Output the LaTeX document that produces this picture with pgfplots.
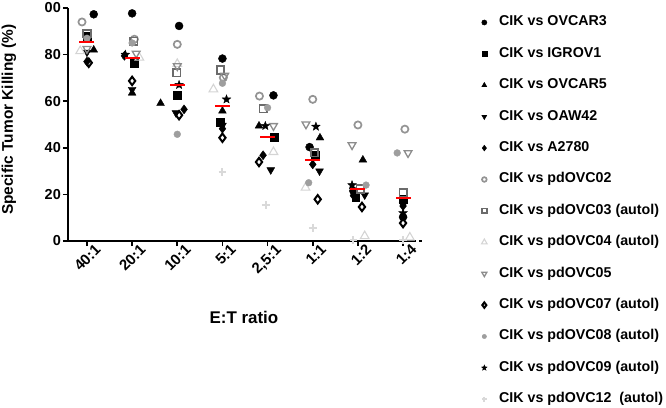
\documentclass[border=0pt]{standalone}
\usepackage{fontspec}
\setmainfont{Liberation Sans}
\usepackage{pgfplots}
\pgfplotsset{compat=1.18}
\definecolor{gA}{gray}{0.58}
\definecolor{gB}{gray}{0.42}
\definecolor{gC}{gray}{0.83}
\definecolor{gD}{gray}{0.55}
\definecolor{gE}{gray}{0.62}
\definecolor{gF}{gray}{0.85}
\pgfdeclareplotmark{fstar}{%
  \pgfpathmoveto{\pgfpointpolar{90}{\pgfplotmarksize}}%
  \pgfpathlineto{\pgfpointpolar{126}{0.42\pgfplotmarksize}}%
  \pgfpathlineto{\pgfpointpolar{162}{\pgfplotmarksize}}%
  \pgfpathlineto{\pgfpointpolar{198}{0.42\pgfplotmarksize}}%
  \pgfpathlineto{\pgfpointpolar{234}{\pgfplotmarksize}}%
  \pgfpathlineto{\pgfpointpolar{270}{0.42\pgfplotmarksize}}%
  \pgfpathlineto{\pgfpointpolar{306}{\pgfplotmarksize}}%
  \pgfpathlineto{\pgfpointpolar{342}{0.42\pgfplotmarksize}}%
  \pgfpathlineto{\pgfpointpolar{18}{\pgfplotmarksize}}%
  \pgfpathlineto{\pgfpointpolar{54}{0.42\pgfplotmarksize}}%
  \pgfpathclose\pgfusepathqfillstroke}
\begin{document}
\begin{tikzpicture}
\begin{axis}[
  at={(0,0)}, anchor=south west,
  scale only axis, width=345bp, height=233bp,
  xmin=-0.42, xmax=7.22, ymin=0, ymax=100,
  axis x line=bottom, axis y line=left,
  axis line style={-, line width=1.6bp, black},
  xtick={0,...,7},
  xticklabels={40:1,20:1,10:1,5:1,{2,5:1},1:1,1:2,1:4},
  ytick={0,20,40,60,80,100},
  yticklabels={0,20,40,60,80,00},
  tick align=outside, major tick length=5bp,
  tick style={line width=1.6bp, black},
  /pgf/number format/assume math mode=true,
  xticklabel style={rotate=45, anchor=north east, inner sep=1bp, xshift=8bp, yshift=-2bp, font=\fontsize{15}{17}\selectfont\bfseries},
  yticklabel style={inner sep=2bp, font=\fontsize{14.5}{16}\selectfont\bfseries},
  xlabel={E:T ratio},
  xlabel style={at={(axis description cs:0.51,-0.33)}, anchor=center, font=\fontsize{17}{19}\selectfont\bfseries},
  ylabel={Specific Tumor Killing (\%)},
  ylabel style={at={(axis description cs:-0.171,0.52)}, anchor=center, rotate=0, font=\fontsize{15.5}{17}\selectfont\bfseries},
  clip=false,
  legend cell align=left,
  legend image code/.code={\draw[#1, every mark/.append style={scale=0.65}] plot coordinates {(0bp,0bp)};},
  legend style={at={(axis description cs:1.1986,0.9657)}, anchor=north west, draw=none, fill=none,
     inner sep=0pt, outer sep=0pt, row sep=18.4bp, column sep=12bp,
     font=\fontsize{14.3}{16}\selectfont\bfseries,
     nodes={inner sep=0pt, text height=10bp, text depth=3bp}},
]
% CIK vs OVCAR3
\addplot[only marks, mark=*, mark size=4bp, black] coordinates {
 (0.15,97.3) (1.0,97.7) (2.04,92.3) (3.0,78.3) (4.13,62.5) (4.93,40.3) (5.9,21.5) (7.0,10.3)};
\addlegendentry{CIK vs OVCAR3}
% CIK vs IGROV1
\addplot[only marks, mark=square*, mark size=3.8bp, black] coordinates {
 (0,88) (1.05,76.3) (2.0,62.7) (2.95,51) (4.15,44.5) (5.05,37) (5.95,18.9) (7.0,18)};
\addlegendentry{CIK vs IGROV1}
% CIK vs OVCAR5
\addplot[only marks, mark=triangle*, mark size=4.5bp, black] coordinates {
 (0.15,82) (1.0,63.5) (1.63,59.1) (3.0,55.8) (3.81,49.4) (5.16,44.3) (6.11,34.8) (7.0,11)};
\addlegendentry{CIK vs OVCAR5}
% CIK vs OAW42
\addplot[only marks, mark=triangle*, mark size=4.5bp, mark options={rotate=180}, black] coordinates {
 (0,81) (1.0,65) (1.97,55) (3.0,49.6) (4.07,30.5) (5.15,30) (6.15,19.7) (7.0,15.5)};
\addlegendentry{CIK vs OAW42}
% CIK vs A2780
\addplot[only marks, mark=diamond*, mark size=4.5bp, black] coordinates {
 (0,77) (0.83,79.5) (2.15,56.5) (3.0,48.2) (3.9,36.8) (5.0,32.9) (5.9,19.5) (7.0,15)};
\addlegendentry{CIK vs A2780}
% CIK vs pdOVC02
\addplot[only marks, mark=o, mark size=3.6bp, line width=1.7bp, gA] coordinates {
 (-0.11,94) (1.05,86.6) (2.0,84.4) (3.02,70.1) (3.82,62.2) (5.0,60.8) (6.0,49.8) (7.04,48)};
\addlegendentry{CIK vs pdOVC02}
% CIK vs pdOVC03 (autol)
\addplot[only marks, mark=square, mark size=3.7bp, line width=1.7bp, gB] coordinates {
 (0,89) (1.04,85.8) (1.99,72.2) (2.96,73.4) (3.9,56.8) (5.04,37.9) (6.05,22.3) (7.0,20.6)};
\addlegendentry{CIK vs pdOVC03 (autol)}
% CIK vs pdOVC04 (autol)
\addplot[only marks, mark=triangle, mark size=5bp, line width=1.1bp, gC] coordinates {
 (-0.15,81.5) (1.16,78.7) (2.0,76) (2.8,65.1) (4.13,38.2) (4.84,22.9) (6.15,2.1) (7.15,1.5)};
\addlegendentry{CIK vs pdOVC04 (autol)}
% CIK vs pdOVC05
\addplot[only marks, mark=triangle, mark size=4.5bp, mark options={rotate=180}, line width=1.3bp, gD] coordinates {
 (0,82.5) (1.09,80.5) (2.0,75.1) (3.05,71) (4.13,49.4) (4.85,50.1) (5.87,41.2) (7.11,37.8)};
\addlegendentry{CIK vs pdOVC05}
% CIK vs pdOVC07 (autol)
\addplot[only marks, mark=diamond, mark size=4.2bp, line width=2bp, black] coordinates {
 (0.04,76.5) (1.0,68.7) (2.04,54) (3.0,44.3) (3.81,33.9) (5.11,17.9) (6.09,14.6) (7.0,7.7)};
\addlegendentry{CIK vs pdOVC07 (autol)}
% CIK vs pdOVC08 (autol)
\addplot[only marks, mark=*, mark size=3.4bp, gE] coordinates {
 (0,87) (1.0,85) (2.0,45.8) (3.0,67.7) (4.0,57.2) (4.91,25) (6.18,24) (6.87,37.8)};
\addlegendentry{CIK vs pdOVC08 (autol)}
% CIK vs pdOVC09 (autol)
\addplot[only marks, mark=fstar, mark size=4.5bp, black] coordinates {
 (0.85,80) (2.04,67) (3.09,60.8) (3.95,49.4) (5.07,49.1) (5.87,24) (7.0,12)};
\addlegendentry{CIK vs pdOVC09 (autol)}
% CIK vs pdOVC12 (autol)
\addplot[only marks, mark=+, mark size=3.8bp, line width=2bp, gF] coordinates {
 (3.0,29.6) (3.96,15.5) (5.0,5.7) (5.9,0.5) (7.0,0.5)};
\addlegendentry{CIK vs pdOVC12\ \ (autol)}
% means
\addplot[only marks, mark=-, mark size=7.5bp, line width=2bp, red, forget plot] coordinates {
 (0,85.4) (1,78.5) (2,66.8) (3,57.8) (4,44.8) (5,34.9) (6,22.3) (7,18.5)};
\draw[dashed, line width=1.6bp] (axis cs:7.22,0) -- (axis cs:7.45,0);
\end{axis}
\pgfresetboundingbox
\path[use as bounding box] (-68bp,-167bp) rectangle (598bp,241bp);
\end{tikzpicture}
\end{document}
